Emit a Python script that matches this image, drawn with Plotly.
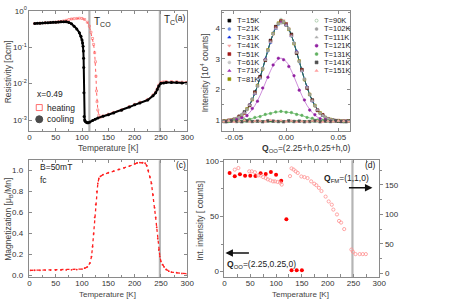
import plotly.graph_objects as go

W, H = 449, 299
FONT = "Arial, Liberation Sans, sans-serif"

# ---------------- (a) resistivity ----------------
cool_T = [10, 15, 20, 25, 30, 35, 40, 45, 50, 55, 60, 65, 70, 75, 80, 85, 90, 95, 98, 100, 101, 102, 102.5, 103, 103.3,
          103.6, 104, 105, 106, 108, 110, 112, 115, 120, 125, 130, 140, 150, 160, 175, 190, 200, 210, 225, 235, 240,
          243, 246, 250, 255, 260, 270, 280, 290, 298]
cool_rho = [0.45, 0.455, 0.46, 0.465, 0.47, 0.475, 0.48, 0.485, 0.49, 0.495, 0.5, 0.5, 0.5, 0.48, 0.44, 0.38, 0.32,
            0.25, 0.2, 0.158, 0.132, 0.107, 0.079, 0.05, 0.028, 0.0056, 0.00126, 0.001, 0.00093, 0.00087, 0.00085,
            0.00085, 0.00088, 0.00097, 0.00106, 0.00114, 0.00128, 0.0014, 0.00157, 0.00186, 0.00228, 0.00262,
            0.00295, 0.00355, 0.00468, 0.0056, 0.0069, 0.0087, 0.0102, 0.0105, 0.0107, 0.0107, 0.0107, 0.0105, 0.0105]
heat_T = [10, 20, 30, 40, 50, 55, 60, 65, 70, 75, 80, 85, 90, 95, 100, 105, 110, 114, 117, 120, 122, 124, 125.5,
          126.5, 127.5, 128.5, 130, 132, 135, 140, 150, 160, 175, 190, 200, 210, 225, 235, 240, 243, 246, 250, 255,
          260, 270, 280, 290, 298]
heat_rho = [0.45, 0.46, 0.47, 0.48, 0.49, 0.5, 0.51, 0.53, 0.55, 0.58, 0.6, 0.61, 0.62, 0.63, 0.62, 0.58, 0.49,
            0.38, 0.26, 0.174, 0.12, 0.071, 0.04, 0.016, 0.0063, 0.0032, 0.0019, 0.00135, 0.0012, 0.0013, 0.00145,
            0.00162, 0.0019, 0.00235, 0.0027, 0.0031, 0.0037, 0.0049, 0.0059, 0.0073, 0.0092, 0.0108, 0.0112, 0.0114,
            0.0114, 0.0113, 0.011, 0.0108]
T_CO = 114
T_C = 248

# ---------------- (b) neutron scans ----------------
q_a = [-0.060, -0.055, -0.050, -0.045, -0.040, -0.035, -0.030, -0.025, -0.020, -0.015, -0.010, -0.005, 0.000,
       0.005, 0.010, 0.015, 0.020, 0.025, 0.030, 0.035, 0.040, 0.045, 0.050, 0.055, 0.060]
q_b = [-0.0575, -0.0525, -0.0475, -0.0425, -0.0375, -0.0325, -0.0275, -0.0225, -0.0175, -0.0125, -0.0075, -0.0025,
       0.0025, 0.0075, 0.0125, 0.0175, 0.0225, 0.0275, 0.0325, 0.0375, 0.0425, 0.0475, 0.0525, 0.0575]
I_15 = [0.96, 0.99, 1.02, 1.13, 1.27, 1.48, 1.92, 2.42, 2.95, 3.60, 4.05, 4.22, 4.10, 3.80, 3.18, 2.65, 2.05, 1.66,
        1.32, 1.17, 1.04, 1.00, 0.97, 0.96, 0.98]
I_21 = [0.98, 1.00, 1.05, 1.19, 1.34, 1.70, 2.10, 2.70, 3.25, 3.84, 4.12, 4.18, 3.95, 3.52, 2.90, 2.35, 1.82, 1.49,
        1.22, 1.10, 1.02, 0.99, 0.97, 0.96]
I_31 = [0.97, 0.98, 1.04, 1.10, 1.24, 1.52, 1.86, 2.36, 3.00, 3.53, 3.98, 4.18, 4.10, 3.74, 3.25, 2.60, 2.09, 1.62,
        1.35, 1.15, 1.06, 1.01, 0.98, 0.97, 0.96]
I_41 = [0.97, 1.02, 1.07, 1.16, 1.38, 1.66, 2.14, 2.66, 3.30, 3.78, 4.17, 4.25, 3.99, 3.48, 2.94, 2.31, 1.86, 1.45,
        1.24, 1.09, 1.03, 0.98, 0.98, 0.97]
I_51 = [0.98, 1.00, 1.03, 1.12, 1.23, 1.49, 1.90, 2.40, 2.96, 3.58, 4.03, 4.24, 4.14, 3.77, 3.20, 2.64, 2.05, 1.65,
        1.33, 1.18, 1.05, 1.00, 0.99, 0.97, 0.97]
I_61 = [0.99, 1.01, 1.06, 1.18, 1.35, 1.69, 2.11, 2.69, 3.27, 3.80, 4.14, 4.22, 3.98, 3.51, 2.91, 2.34, 1.85, 1.46,
        1.23, 1.10, 1.02, 0.99, 0.98, 0.97]
I_71 = [0.97, 0.99, 1.02, 1.10, 1.26, 1.51, 1.87, 2.38, 2.99, 3.55, 4.00, 4.20, 4.11, 3.75, 3.23, 2.61, 2.08, 1.63,
        1.35, 1.16, 1.06, 1.00, 0.98, 0.97, 0.97]
I_81 = [0.98, 1.01, 1.05, 1.16, 1.37, 1.67, 2.13, 2.67, 3.29, 3.82, 4.16, 4.20, 3.96, 3.49, 2.93, 2.32, 1.84, 1.48,
        1.24, 1.09, 1.03, 0.99, 0.97, 0.97]
I_90 = [0.97, 0.99, 1.03, 1.11, 1.25, 1.50, 1.89, 2.39, 2.97, 3.57, 4.02, 4.28, 4.13, 3.77, 3.21, 2.63, 2.06, 1.65,
        1.34, 1.16, 1.05, 1.00, 0.98, 0.97, 0.97]
I_102 = [0.98, 1.01, 1.06, 1.17, 1.36, 1.68, 2.12, 2.68, 3.28, 3.81, 4.15, 4.21, 3.97, 3.50, 2.92, 2.33, 1.84, 1.47,
         1.23, 1.10, 1.02, 0.99, 0.97, 0.97]
I_111 = [0.97, 0.98, 1.02, 1.10, 1.24, 1.49, 1.87, 2.37, 2.96, 3.54, 3.98, 4.15, 4.08, 3.73, 3.20, 2.60, 2.06, 1.63,
         1.33, 1.15, 1.05, 1.00, 0.97, 0.96, 0.97]
I_121 = [0.96, 0.99, 1.02, 1.08, 1.15, 1.38, 1.62, 2.05, 2.40, 2.80, 3.02, 2.97, 2.75, 2.45, 1.98, 1.66, 1.33, 1.18,
         1.05, 1.02, 0.97, 0.98, 0.96, 0.97]
I_131 = [0.97, 0.96, 0.99, 0.98, 1.02, 1.03, 1.09, 1.12, 1.19, 1.22, 1.27, 1.29, 1.26, 1.25, 1.19, 1.16, 1.09, 1.06,
         1.01, 1.00, 0.98, 0.97, 0.98, 0.96, 0.97]
I_141 = [0.95, 0.97, 0.96, 0.95, 0.98, 0.96, 0.97, 0.95, 0.98, 0.97, 0.96, 0.95, 0.98, 0.96, 0.97, 0.95, 0.96, 0.98,
         0.95, 0.97, 0.96, 0.98, 0.96, 0.95]
I_151 = [0.96, 0.98, 0.95, 0.97, 0.99, 0.96, 0.97, 0.98, 0.96, 1.00, 0.97, 0.99, 0.96, 0.98, 0.95, 0.97, 0.96, 0.98,
         0.97, 0.95, 0.97, 0.96, 0.98, 0.97, 0.96]
fit_low = [0.975, 0.99, 1.03, 1.11, 1.25, 1.50, 1.88, 2.39, 2.98, 3.56, 4.01, 4.21, 4.12, 3.76, 3.22, 2.62, 2.07,
           1.64, 1.34, 1.16, 1.055, 1.005, 0.98, 0.97, 0.97]
fit_121 = [0.97, 0.98, 0.99, 1.03, 1.10, 1.25, 1.48, 1.81, 2.21, 2.61, 2.91, 3.02, 2.91, 2.61, 2.21, 1.81, 1.48, 1.25,
           1.10, 1.03, 0.99, 0.98, 0.97, 0.97, 0.97]
fit_131 = [0.97, 0.976, 0.98, 0.99, 1.01, 1.04, 1.08, 1.13, 1.18, 1.23, 1.26, 1.28, 1.27, 1.24, 1.20, 1.15, 1.10, 1.05,
           1.02, 1.00, 0.985, 0.978, 0.973, 0.97, 0.97]
fit_flat = [0.965, 0.965, 0.965, 0.965, 0.965, 0.965, 0.966, 0.966, 0.966, 0.966, 0.966, 0.966, 0.966, 0.966, 0.966,
            0.966, 0.966, 0.966, 0.966, 0.965, 0.965, 0.965, 0.965, 0.965, 0.965]

# ---------------- (c) magnetization ----------------
mag_T = [2, 10, 20, 30, 40, 50, 60, 70, 80, 90, 100, 105, 110, 115, 118, 120, 122, 124, 126, 128, 130, 132, 135,
         140, 150, 160, 170, 180, 190, 200, 205, 210, 215, 220, 223, 226, 229, 232, 235, 238, 240, 242, 244, 246,
         248, 250, 253, 256, 260, 265, 270, 280, 290, 300]
mag_M = [0.048, 0.049, 0.049, 0.05, 0.05, 0.05, 0.051, 0.052, 0.053, 0.055, 0.06, 0.068, 0.08, 0.117, 0.179, 0.272,
         0.395, 0.55, 0.673, 0.796, 0.873, 0.92, 0.941, 0.957, 0.975, 0.99, 1.006, 1.022, 1.037, 1.059, 1.068, 1.071,
         1.071, 1.065, 1.043, 0.997, 0.935, 0.873, 0.765, 0.642, 0.55, 0.457, 0.349, 0.241, 0.179, 0.133, 0.102,
         0.08, 0.056, 0.04, 0.031, 0.025, 0.019, 0.015]
mag_ticks = [0.0, 0.2, 0.4, 0.6, 0.8, 1.0]
mag_ticktext = ["0.0", "0.2", "0.4", "0.6", "0.8", "1.0"]

# ---------------- (d) integrated intensities ----------------
oo_T = [10, 20, 30, 40, 50, 60, 70, 80, 90, 100, 110, 120, 130, 140, 150]
oo_I = [89.4, 86.4, 88.2, 87.0, 87.0, 86.7, 89.1, 88.5, 90.3, 87.9, 82.3, 47.5, 1.2, 1.2, 1.2]
fm_T = [20, 27, 48, 53, 59, 65, 70, 75, 80, 84, 89, 94, 98, 103, 108, 111, 127, 130, 134, 138, 142, 149, 155, 161,
        168, 174, 178, 183, 188, 196, 202, 208, 211, 218, 222, 226, 232, 246, 249, 254, 262, 268, 274]
fm_I = [175.9, 178.6, 173.0, 173.0, 171.5, 166.0, 166.0, 163.2, 161.6, 159.4, 157.7, 156.0, 156.0, 155.0, 153.8,
        150.5, 164.9, 178.0, 176.0, 173.0, 170.3, 164.3, 163.2, 161.6, 156.0, 152.0, 149.5, 145.0, 139.6, 130.2,
        122.0, 116.5, 108.2, 100.0, 89.0, 86.2, 75.2, 40.5, 36.7, 32.8, 32.8, 32.8, 32.8]


def px(x):
    return x / W


def py(y):
    return 1 - y / H


def ann(x, y, text, size=8, xanchor="left", angle=0, color="#222"):
    return dict(x=px(x), y=py(y), xref="paper", yref="paper", text=text, showarrow=False,
                xanchor=xanchor, yanchor="middle", textangle=angle,
                font=dict(size=size, color=color, family=FONT))


fig = go.Figure()

# (a)
fig.add_trace(go.Scatter(x=heat_T, y=heat_rho, mode="lines+markers", xaxis="x", yaxis="y",
                         line=dict(color="#ff6060", width=1, dash="dot"),
                         marker=dict(symbol="square-open", size=2, color="#ff6060", line=dict(width=0.6)),
                         showlegend=False))
fig.add_trace(go.Scatter(x=cool_T, y=cool_rho, mode="lines+markers", xaxis="x", yaxis="y",
                         line=dict(color="#000", width=2), marker=dict(size=3, color="#000"),
                         showlegend=False))

# (b)
series_b = [
    ("T=15K", q_a, I_15, "#000000", "square"),
    ("T=21K", q_b, I_21, "#7090e0", "circle"),
    ("T=31K", q_a, I_31, "#1030e0", "triangle-up"),
    ("T=41K", q_b, I_41, "#f4a0a0", "triangle-down"),
    ("T=51K", q_a, I_51, "#a01818", "square"),
    ("T=61K", q_b, I_61, "#c8c8c8", "circle"),
    ("T=71K", q_a, I_71, "#a030b0", "triangle-up"),
    ("T=81K", q_b, I_81, "#909000", "square"),
    ("T=90K", q_a, I_90, "#70a870", "circle-open"),
    ("T=102K", q_b, I_102, "#a0a0a0", "circle"),
    ("T=111K", q_a, I_111, "#b0b0b0", "triangle-up"),
    ("T=121K", q_b, I_121, "#9020a0", "circle"),
    ("T=131K", q_a, I_131, "#60b060", "circle"),
    ("T=141K", q_b, I_141, "#505050", "square"),
    ("T=151K", q_a, I_151, "#ffa0a0", "triangle-up"),
]
for fit, col, wd in [(fit_low, "#000000", 0.8), (fit_low, "#2040e0", 0.8), (fit_low, "#208040", 0.8),
                     (fit_121, "#c070d0", 0.8), (fit_131, "#70c070", 0.8), (fit_flat, "#1a7a1a", 1.8)]:
    fig.add_trace(go.Scatter(x=q_a, y=fit, mode="lines", xaxis="x2", yaxis="y2", line_shape="spline",
                             line=dict(color=col, width=wd), showlegend=False))
for name, qq, ii, col, sym in series_b:
    fig.add_trace(go.Scatter(x=qq, y=ii, mode="markers", xaxis="x2", yaxis="y2", name=name,
                             marker=dict(symbol=sym, size=2.6, color=col, line=dict(width=0.5, color=col)),
                             showlegend=False))

# (c)
fig.add_trace(go.Scatter(x=mag_T, y=mag_M, mode="lines+markers", xaxis="x3", yaxis="y3",
                         line=dict(color="#ff2020", width=1.3, dash="dot"),
                         marker=dict(size=1.8, color="#ff2020"), showlegend=False))

# (d)
fig.add_trace(go.Scatter(x=fm_T, y=fm_I, mode="markers", xaxis="x4", yaxis="y5",
                         marker=dict(symbol="circle-open", size=3.2, color="#ff9090", line=dict(width=0.8)),
                         showlegend=False))
fig.add_trace(go.Scatter(x=oo_T, y=oo_I, mode="markers", xaxis="x4", yaxis="y4",
                         marker=dict(size=4, color="#ff0000"), showlegend=False))

# legend symbols on a pixel overlay covering the upper row only
TOPH = 130
leg_x, leg_y, leg_c, leg_s = [], [], [], []
for i, (name, qq, ii, col, sym) in enumerate(series_b):
    if i < 8:
        lx, ly = 232, 15 + 8.55 * i
    else:
        lx, ly = 321, 15 + 8.55 * (i - 8)
    leg_x.append(lx)
    leg_y.append(ly)
    leg_c.append(col)
    leg_s.append(sym)
fig.add_trace(go.Scatter(x=leg_x, y=leg_y, mode="markers", xaxis="x6", yaxis="y6",
                         marker=dict(symbol=leg_s, size=3, color=leg_c, line=dict(width=0.5, color=leg_c)),
                         showlegend=False, hoverinfo="skip"))
fig.add_trace(go.Scatter(x=[38, 38], y=[104, 116], mode="markers", xaxis="x6", yaxis="y6",
                         marker=dict(symbol=["square-open", "circle"], size=[6, 7], color=["#ff3030", "#000"],
                                     line=dict(width=1, color=["#ff3030", "#000"])),
                         showlegend=False, hoverinfo="skip"))

axc = "#8a8a8a"
base = dict(showline=True, linecolor=axc, linewidth=1, mirror="allticks", ticks="inside", ticklen=3,
            tickcolor=axc, tickfont=dict(size=8, color="#333", family=FONT), showgrid=False, zeroline=False)
xbase = dict(base, ticklabelstandoff=-2)
mn_in = dict(ticks="inside", ticklen=2, tickcolor=axc)
mn_out = dict(ticks="outside", ticklen=2, tickcolor=axc)
xa = [28 / W, 189 / W]
ytop = [1 - 128 / H, 1 - 5 / H]
ybot = [1 - 278 / H, 1 - 158 / H]

fig.update_layout(
    width=W, height=H, margin=dict(l=0, r=0, t=0, b=0),
    paper_bgcolor="white", plot_bgcolor="rgba(0,0,0,0)", font=dict(family=FONT),
    xaxis=dict(xbase, domain=xa, anchor="y", range=[0, 300], dtick=50, minor=dict(mn_in, dtick=25)),
    yaxis=dict(base, domain=ytop, anchor="x", type="log", range=[-3.3, 0],
               tickvals=[0.001, 0.01, 0.1, 1],
               ticktext=["10<sup>-3</sup>", "10<sup>-2</sup>", "10<sup>-1</sup>", "10<sup>0</sup>"]),
    xaxis2=dict(xbase, domain=[225 / W, 355 / W], anchor="y2", range=[-0.061, 0.061],
                tickvals=[-0.05, 0, 0.05], ticktext=["-0.05", "0.00", "0.05"],
                minor=dict(mn_in, dtick=0.025)),
    yaxis2=dict(base, domain=ytop, anchor="x2", range=[0.65, 4.56], dtick=1, minor=dict(mn_in, dtick=0.5)),
    xaxis3=dict(xbase, domain=xa, anchor="y3", range=[0, 300], dtick=50, minor=dict(mn_in, dtick=25)),
    yaxis3=dict(base, domain=ybot, anchor="x3", range=[-0.02, 1.093], tickvals=mag_ticks,
                ticktext=mag_ticktext, showticklabels=False),
    xaxis4=dict(xbase, domain=[227 / W, 385 / W], anchor="y4", range=[0, 300], dtick=50,
                minor=dict(mn_in, dtick=25)),
    yaxis4=dict(base, domain=ybot, anchor="x4", range=[-5.3, 100.9], dtick=50, mirror=False, ticks="outside",
                minor=dict(mn_out, dtick=25)),
    yaxis5=dict(base, overlaying="y4", anchor="x4", side="right", range=[-6.8, 191.7], dtick=50, mirror=False,
                ticks="outside", minor=dict(mn_out, dtick=25)),
    xaxis6=dict(domain=[0, 1], anchor="y6", range=[0, W], visible=False, fixedrange=True),
    yaxis6=dict(domain=[1 - TOPH / H, 1], anchor="x6", range=[TOPH, 0], visible=False, fixedrange=True),
)

shapes = []
for xr, yr, t in [("x", "y", T_CO), ("x", "y", T_C), ("x3", "y3", T_C), ("x4", "y4", T_C)]:
    shapes.append(dict(type="line", xref=xr, yref=yr + " domain", x0=t, x1=t, y0=0, y1=1,
                       line=dict(color="#b5b5b5", width=2.2), layer="below"))
fig.update_layout(shapes=shapes)

annotations = [
    # (a)
    ann(92, 16, "T<sub>CO</sub>", 10),
    ann(163, 14, "T<sub>C</sub>", 10),
    ann(182, 12, "(a)", 8.5, "center"),
    ann(34, 90, "x=0.49", 8.5),
    ann(44, 104, "heating", 8.5),
    ann(44, 116, "cooling", 8.5),
    ann(108, 145, "Temperature [K]", 8.5, "center", color="#444"),
    ann(7, 67, "Resistivity [Ωcm]", 8.5, "center", -90, color="#444"),
    # (b)
    ann(311, 146, "<b>Q</b><sub>OO</sub>=(2.25+h,0.25+h,0)", 8.5, "center", color="#333"),
    ann(207, 68, "Intensity [10<sup>4</sup> counts]", 8.5, "center", -90, color="#444"),
    # (c)
    ann(37, 165, "B=50mT", 8.5),
    ann(37, 178, "fc", 8.5),
    ann(183, 163, "(c)", 8.5, "center"),
    ann(108, 295, "Temperature [K]", 8, "center", color="#444"),
    ann(7, 218, "Magnetization [μ<sub>B</sub>/Mn]", 8.5, "center", -90, color="#444"),
    # (d)
    ann(376, 163, "(d)", 8.5, "center"),
    ann(327, 177, "<b>Q</b><sub>FM</sub>=(1,1,0)", 8.5),
    ann(228, 265, "<b>Q</b><sub>OO</sub>=(2.25,0.25,0)", 8.5),
    ann(305, 295, "Temperature [K]", 8, "center", color="#444"),
    ann(202, 220, "Int. intensity [ counts]", 8.5, "center", -90, color="#444"),
]
# magnetization tick labels placed through the y3 scale
for v, t in zip(mag_ticks, mag_ticktext):
    annotations.append(dict(x=px(25), y=v, xref="paper", yref="y3", text=t, showarrow=False, xanchor="right",
                            yanchor="middle", font=dict(size=8, color="#333", family=FONT)))
for i, (name, qq, ii, col, sym) in enumerate(series_b):
    if i < 8:
        annotations.append(ann(238, 15 + 8.55 * i, name, 7.5))
    else:
        annotations.append(ann(327, 15 + 8.55 * (i - 8), name, 7.5))
annotations.append(dict(x=px(378), y=py(186), xref="paper", yref="paper", ax=-25, ay=0, axref="pixel",
                        ayref="pixel", text="", showarrow=True, arrowhead=2, arrowsize=1, arrowwidth=1.5,
                        arrowcolor="#111"))
annotations.append(dict(x=px(228), y=py(253), xref="paper", yref="paper", ax=25, ay=0, axref="pixel",
                        ayref="pixel", text="", showarrow=True, arrowhead=2, arrowsize=1, arrowwidth=1.5,
                        arrowcolor="#111"))
fig.update_layout(annotations=annotations)

fig.write_html("out.html", config={"displayModeBar": False},
               post_script="document.body.style.margin='0';document.body.style.overflow='hidden';")
